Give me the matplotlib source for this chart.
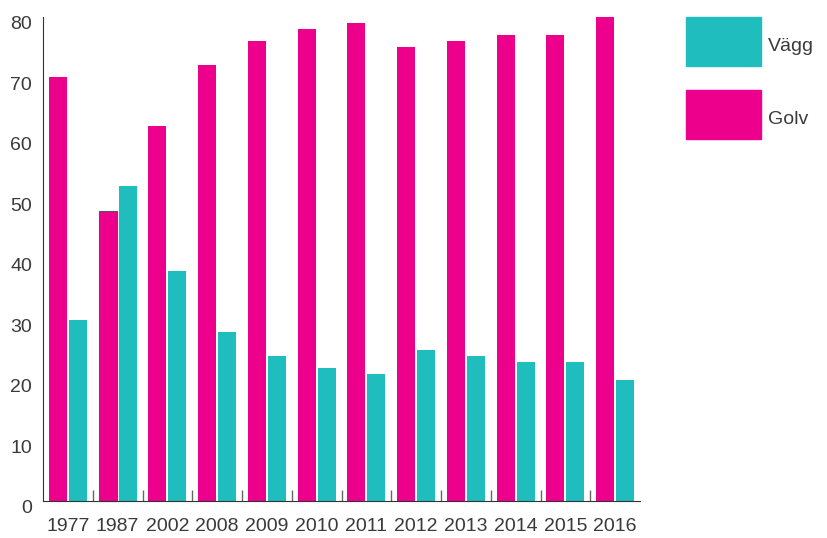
import numpy as np
import matplotlib
matplotlib.use('Agg')
from matplotlib import pyplot as plt
from matplotlib.patches import Rectangle
from matplotlib.transforms import ScaledTranslation

# ---------- Data
years = ['1977', '1987', '2002', '2008', '2009', '2010', '2011', '2012', '2013', '2014', '2015', '2016']
golv = [70, 48, 62, 72, 76, 78, 79, 75, 76, 77, 77, 80]
vagg = [30, 52, 38, 28, 24, 22, 21, 25, 24, 23, 23, 20]

pink = '#EC008C'
teal = '#1FBDBD'
txt = '#3a3a3a'

plt.rcParams['font.family'] = ['Liberation Sans', 'DejaVu Sans']

fig = plt.figure(figsize=(8.27, 5.38), dpi=100)
ax = fig.add_axes([43/827, 37/538, 597/827, 484/538])

x = np.arange(len(years))
w = 0.36
bg = ax.bar(x - 0.2, golv, w, color=pink, clip_on=False)
bv = ax.bar(x + 0.2, vagg, w, color=teal, clip_on=False)
# hover outline on 1987 floor bar as in the original
bg[1].set_edgecolor('#555555')
bg[1].set_linewidth(0.8)

ax.set_xlim(-0.5, len(years) - 0.5)
ax.set_ylim(0, 80)
ax.set_yticks(np.arange(0, 81, 10))
ax.set_xticks(x)
ax.set_xticklabels(years)
ax.set_xticks(np.arange(0.5, len(years) - 1, 1), minor=True)
ax.tick_params(axis='x', which='major', length=0, pad=12, labelsize=14, labelcolor=txt)
ax.tick_params(axis='x', which='minor', direction='in', length=8, width=1, color='#666666')
ax.tick_params(axis='y', length=0, pad=8, labelsize=14, labelcolor=txt)

# y labels sit a little below their values in the original
off = ScaledTranslation(0, -4/72, fig.dpi_scale_trans)
for lab in ax.get_yticklabels():
    lab.set_transform(lab.get_transform() + off)

for s in ['top', 'right']:
    ax.spines[s].set_visible(False)
ax.spines['left'].set_color('#333333')
ax.spines['bottom'].set_color('#333333')

# ---------- Legend
for i, (lab, col) in enumerate([('Vägg', teal), ('Golv', pink)]):
    y0 = 1 - (66 + i * 73) / 538
    fig.add_artist(Rectangle((686/827, y0), 75/827, 49/538, transform=fig.transFigure,
                             color=col))
    fig.text(768/827, y0 + 20/538, lab, fontsize=14, color=txt, va='center', ha='left')

fig.savefig('out.png', dpi=100)
